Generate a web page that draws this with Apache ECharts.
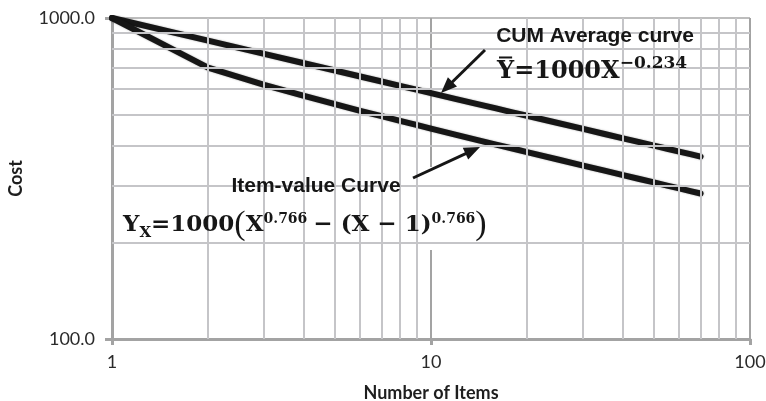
<!DOCTYPE html>
<html>
<head>
<meta charset="utf-8">
<script src="https://cdn.jsdelivr.net/npm/echarts@6/dist/echarts.min.js"></script>
<style>
  html, body { margin: 0; padding: 0; background: #fff; }
  #chart { width: 766px; height: 401px; }
</style>
</head>
<body>
<div id="chart"></div>
<script>
// Learning-curve values by unit number
const items = [1, 2, 3, 4, 5, 6, 7, 8, 9, 10, 12, 14, 16, 18, 20, 25, 30, 35, 40, 45, 50, 55, 60, 65, 70];
const cumAverage = [1000, 850.3, 773.3, 723.0, 686.2, 657.5, 634.2, 614.7, 598.0, 583.4, 559.1, 539.3, 522.7, 508.4, 496.1, 470.9, 451.2, 435.2, 421.8, 410.3, 400.4, 391.5, 383.6, 376.5, 370.0];
const itemValue = [1000, 700.6, 619.3, 572.1, 539.0, 514.0, 494.4, 478.2, 464.4, 452.3, 432.6, 416.6, 403.4, 392.1, 382.2, 362.4, 347.0, 334.5, 324.0, 315.1, 307.4, 300.6, 294.5, 288.9, 283.9];

// Axis ranges and the intermediate (2..9 per decade) grid values
const xTicks = [1, 10, 100];
const yTicks = [100, 1000];
const xMinorGrid = [2, 3, 4, 5, 6, 7, 8, 9, 20, 30, 40, 50, 60, 70, 80, 90];
const yMinorGrid = [200, 300, 400, 500, 600, 700, 800, 900];

const chart = echarts.init(document.getElementById('chart'), null, { renderer: 'canvas' });

const AXIS_GREY = '#a3a3a3';
const MINOR_GREY = '#c5c5c8';
const INK = '#161616';
const SERIF = '"DejaVu Serif"';

// Lay out formula pieces left to right using measured widths
const measureCtx = document.createElement('canvas').getContext('2d');
function formula(x, baseline, pieces) {
  const els = [];
  let cx = x;
  pieces.forEach(p => {
    measureCtx.font = p.font;
    const w = measureCtx.measureText(p.t).width;
    const size = parseFloat(p.font.match(/(\d+(?:\.\d+)?)px/)[1]);
    els.push({
      type: 'text', z: 6, silent: true,
      style: {
        text: p.t, x: cx, y: baseline + (p.dy || 0) - 0.3 * size,
        font: p.font, fill: INK, align: 'left', verticalAlign: 'middle'
      }
    });
    if (p.bar) {
      // mean bar over the symbol
      const barY = baseline - 0.73 * size - 4;
      els.push({
        type: 'line', z: 6, silent: true,
        shape: { x1: cx + 2, y1: barY, x2: cx + w - 2, y2: barY },
        style: { stroke: INK, lineWidth: 2 }
      });
    }
    cx += w + (p.gap || 0);
  });
  return els;
}

// Straight arrow with a filled head at (x2, y2)
function arrow(x1, y1, x2, y2) {
  const ang = Math.atan2(y2 - y1, x2 - x1);
  const len = 16, half = 6.5;
  const bx = x2 - len * Math.cos(ang), by = y2 - len * Math.sin(ang);
  const nx = -Math.sin(ang) * half, ny = Math.cos(ang) * half;
  return [
    { type: 'line', z: 6, silent: true,
      shape: { x1: x1, y1: y1, x2: bx + 2 * Math.cos(ang), y2: by + 2 * Math.sin(ang) },
      style: { stroke: INK, lineWidth: 3 } },
    { type: 'polygon', z: 6, silent: true,
      shape: { points: [[x2, y2], [bx + nx, by + ny], [bx - nx, by - ny]] },
      style: { fill: INK } }
  ];
}

const bold24 = 'bold 24px ' + SERIF;
const bold17 = 'bold 17px ' + SERIF;
const bold23 = 'bold 23px ' + SERIF;
const bold15 = 'bold 15px ' + SERIF;
const bold14 = 'bold 14px ' + SERIF;
const paren = '34px "Liberation Serif"';

const graphics = [
  // white label panels
  { type: 'rect', z: 1, silent: true, shape: { x: 460, y: 20, width: 283, height: 80 }, style: { fill: '#fff' } },
  { type: 'rect', z: 1, silent: true, shape: { x: 115, y: 167, width: 392, height: 83 }, style: { fill: '#fff' } },
  { type: 'text', z: 6, silent: true,
    style: { text: 'CUM Average curve', x: 595, y: 36, align: 'center', verticalAlign: 'middle',
             font: 'bold 21px "Liberation Sans"', fill: INK } },
  { type: 'text', z: 6, silent: true,
    style: { text: 'Item-value Curve', x: 316, y: 186, align: 'center', verticalAlign: 'middle',
             font: 'bold 21px "Liberation Sans"', fill: INK } },
  ...formula(497, 79, [
    { t: 'Y', font: bold24, bar: true },
    { t: '=', font: bold24 },
    { t: '1000X', font: bold24 },
    { t: '−0.234', font: bold17, dy: -10 }
  ]),
  ...formula(123, 232, [
    { t: 'Y', font: bold23 },
    { t: 'X', font: bold15, dy: 6 },
    { t: '=1000', font: bold23 },
    { t: '(', font: paren, dy: 3 },
    { t: 'X', font: bold23 },
    { t: '0.766', font: bold14, dy: -8, gap: 6 },
    { t: '− (X − 1)', font: bold23 },
    { t: '0.766', font: bold14, dy: -8 },
    { t: ')', font: paren, dy: 3 }
  ]),
  ...arrow(485, 50, 441, 93),
  ...arrow(413, 178, 480, 147)
];

const curveStyle = {
  color: INK, width: 6, cap: 'round', join: 'round',
  shadowColor: 'rgba(0,0,0,0.35)', shadowBlur: 2
};

chart.setOption({
  animation: false,
  backgroundColor: '#fff',
  grid: { left: 112, right: 16, top: 18, bottom: 62, containLabel: false, outerBoundsMode: 'none' },
  xAxis: {
    type: 'log', logBase: 10, min: xTicks[0], max: xTicks[xTicks.length - 1],
    name: 'Number of Items', nameLocation: 'middle', nameGap: 45,
    nameTextStyle: { fontFamily: 'Lato', fontWeight: 'bold', fontSize: 18, color: '#1e1e1e' },
    axisLine: { show: true, lineStyle: { color: AXIS_GREY, width: 3 } },
    axisTick: { show: true, length: 6, lineStyle: { color: AXIS_GREY, width: 3 } },
    axisLabel: { fontFamily: 'Lato', fontSize: 18, color: '#2a2a2a', margin: 14 },
    splitLine: { show: true, lineStyle: { color: AXIS_GREY, width: 2 } },
    minorTick: { show: false }, minorSplitLine: { show: false }
  },
  yAxis: {
    type: 'log', logBase: 10, min: yTicks[0], max: yTicks[yTicks.length - 1],
    name: 'Cost', nameLocation: 'middle', nameGap: 87, nameRotate: 90,
    nameTextStyle: { fontFamily: 'Lato', fontWeight: 'bold', fontSize: 18, color: '#1e1e1e' },
    axisLine: { show: true, lineStyle: { color: AXIS_GREY, width: 3 } },
    axisTick: { show: true, length: 7, lineStyle: { color: AXIS_GREY, width: 3 } },
    axisLabel: { fontFamily: 'Lato', fontSize: 18, color: '#2a2a2a', margin: 17,
                 formatter: v => Number(v).toFixed(1) },
    splitLine: { show: true, lineStyle: { color: '#bdbdbd', width: 2 } },
    minorTick: { show: false }, minorSplitLine: { show: false }
  },
  series: [
    {
      name: 'grid', type: 'line', data: [], z: 0, silent: true,
      markLine: {
        silent: true, symbol: ['none', 'none'], animation: false,
        label: { show: false },
        lineStyle: { color: MINOR_GREY, width: 2, type: 'solid' },
        emphasis: { disabled: true },
        data: [
          ...xMinorGrid.map(v => ({ xAxis: v })),
          ...yMinorGrid.map(v => ({ yAxis: v }))
        ]
      }
    },
    {
      name: 'CUM Average curve', type: 'line', z: 3, showSymbol: false, silent: true,
      data: items.map((x, i) => [x, cumAverage[i]]),
      lineStyle: curveStyle
    },
    {
      name: 'Item-value Curve', type: 'line', z: 3, showSymbol: false, silent: true,
      data: items.map((x, i) => [x, itemValue[i]]),
      lineStyle: curveStyle
    }
  ],
  graphic: { elements: graphics }
});
</script>
</body>
</html>
